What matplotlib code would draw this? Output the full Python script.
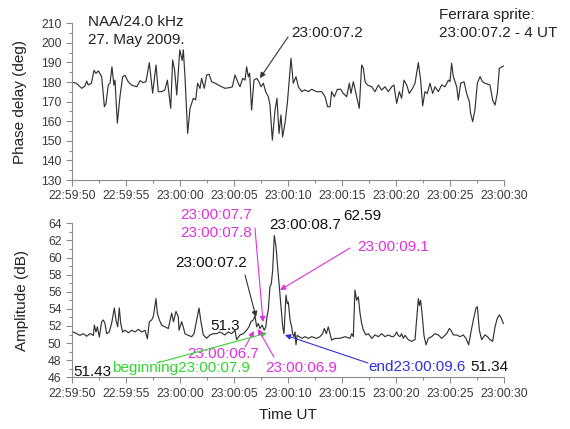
import matplotlib
matplotlib.use("Agg")
import matplotlib.pyplot as plt
from matplotlib.ticker import MultipleLocator

plt.rcParams['font.family'] = ['Liberation Sans', 'DejaVu Sans']

# ---- data: seconds after 22:59:50 UT ----
tick_seconds = [0, 5, 10, 15, 20, 25, 30, 35, 40]
tick_labels = ["22:59:50", "22:59:55", "23:00:00", "23:00:05", "23:00:10",
               "23:00:15", "23:00:20", "23:00:25", "23:00:30"]

phase_t = [0.0, 0.4, 0.9, 1.2, 1.36, 1.5, 1.8, 2.04, 2.22, 2.44, 2.75, 3.0, 3.15, 3.36, 3.52,
           3.7, 3.88, 3.98, 4.2, 4.44, 4.69, 4.9, 5.2, 5.5, 6.0, 6.3, 6.6, 6.85, 7.16, 7.47,
           7.78, 7.99, 8.3, 8.6, 8.83, 9.14, 9.32, 9.5, 9.7, 9.98, 10.2, 10.31, 10.46, 10.71,
           10.93, 11.23, 11.45, 11.63, 11.85, 12.0, 12.25, 12.47, 12.69, 12.93, 13.24, 13.86,
           14.17, 14.63, 14.85, 15.09, 15.4, 15.56, 15.8, 16.02, 16.17, 16.33, 16.45, 16.63,
           16.85, 17.1, 17.31, 17.5, 17.72, 17.93, 18.18, 18.33, 18.55, 18.8, 18.98, 19.17,
           19.35, 19.5, 19.72, 19.94, 20.28, 20.49, 20.74, 20.96, 21.27, 21.57, 21.88, 22.19,
           22.65, 23.12, 23.43, 23.67, 23.89, 24.04, 24.29, 24.57, 24.88, 25.12, 25.43, 25.68,
           25.83, 26.05, 26.36, 26.6, 26.82, 26.98, 27.13, 27.35, 27.75, 28.06, 28.37, 28.67,
           28.98, 29.29, 29.6, 29.81, 30.06, 30.31, 30.52, 30.74, 30.99, 31.23, 31.54, 31.76,
           32.07, 32.28, 32.47, 32.68, 32.9, 33.15, 33.4, 33.61, 33.92, 34.23, 34.54, 34.85,
           35.0, 35.15, 35.31, 35.62, 35.77, 35.99, 36.3, 36.54, 36.79, 36.91, 37.1, 37.31,
           37.53, 37.78, 38.0, 38.24, 38.7, 38.95, 39.17, 39.38, 39.57, 39.94]
phase_deg = [180.0, 179.4, 176.8, 178.0, 180.5, 178.5, 179.4, 186.0, 184.4, 185.7, 182.7, 167.4,
             169.1, 178.5, 179.4, 187.8, 178.5, 181.0, 159.0, 172.5, 182.7, 183.5, 180.2, 178.5,
             177.6, 180.7, 179.7, 180.2, 189.9, 174.3, 188.7, 175.1, 175.1, 176.0, 181.0, 166.6,
             191.3, 186.2, 173.4, 196.4, 191.0, 196.4, 183.0, 153.8, 166.6, 171.7, 170.9, 179.4,
             176.8, 181.9, 176.8, 183.6, 184.0, 180.2, 179.4, 177.6, 176.8, 177.2, 177.6, 183.6,
             179.4, 177.6, 181.9, 181.0, 187.8, 182.7, 184.5, 165.7, 181.0, 181.9, 180.2, 177.6,
             179.4, 175.1, 172.5, 168.3, 150.4, 165.7, 171.7, 153.8, 163.2, 152.0, 158.9, 169.2,
             192.1, 179.4, 182.7, 177.6, 175.1, 176.0, 175.1, 176.3, 175.1, 175.1, 172.5, 167.4,
             167.4, 175.1, 172.5, 176.3, 176.3, 174.2, 172.5, 179.4, 174.2, 180.2, 172.5, 166.6,
             188.7, 187.0, 180.2, 178.5, 177.6, 175.1, 178.5, 175.9, 177.6, 175.1, 177.6, 178.5,
             169.1, 175.1, 171.7, 181.0, 178.5, 174.2, 176.8, 179.4, 189.9, 181.0, 167.8, 175.1,
             174.2, 179.4, 174.2, 177.6, 175.1, 178.5, 177.6, 181.0, 180.2, 189.6, 182.8, 177.6,
             170.8, 179.4, 180.2, 174.2, 170.0, 164.0, 159.8, 165.7, 179.4, 182.8, 180.2, 179.4,
             178.5, 170.8, 168.3, 174.2, 187.0, 188.2]

amp_t = [0.0, 0.12, 0.43, 0.74, 1.05, 1.36, 1.67, 1.98, 2.07, 2.22, 2.35, 2.53, 2.75, 2.9, 3.05,
         3.21, 3.45, 3.67, 3.92, 4.07, 4.23, 4.38, 4.51, 4.69, 4.91, 5.22, 5.52, 5.83, 6.14,
         6.45, 6.76, 6.98, 7.16, 7.38, 7.53, 7.78, 7.9, 8.09, 8.3, 8.61, 8.92, 9.23, 9.4, 9.63,
         9.84, 9.91, 10.15, 10.3, 10.46, 10.77, 11.08, 11.3, 11.54, 11.76, 11.94, 12.16, 12.47,
         12.78, 13.09, 13.4, 13.7, 14.16, 14.47, 14.78, 15.09, 15.25, 15.55, 15.86, 16.17,
         16.39, 16.57, 16.79, 16.94, 17.1, 17.25, 17.4, 17.6, 17.8, 17.95, 18.05, 18.18, 18.33,
         18.45, 18.58, 18.73, 18.89, 19.04, 19.2, 19.35, 19.51, 19.63, 19.81, 19.94, 20.03,
         20.19, 20.34, 20.43, 20.56, 20.65, 20.74, 20.85, 21.05, 21.3, 21.57, 21.88, 22.19,
         22.65, 22.96, 23.2, 23.36, 23.55, 23.73, 23.89, 24.04, 24.35, 24.81, 25.28, 25.74,
         25.9, 26.05, 26.2, 26.36, 26.51, 26.67, 26.82, 26.98, 27.22, 27.44, 27.75, 28.06,
         28.37, 28.67, 28.98, 29.29, 29.6, 29.75, 29.91, 30.06, 30.2, 30.37, 30.52, 30.68,
         30.83, 31.14, 31.45, 31.76, 31.91, 32.07, 32.17, 32.28, 32.44, 32.59, 32.78, 32.99,
         33.3, 33.61, 33.92, 34.23, 34.69, 34.94, 35.09, 35.31, 35.62, 35.93, 36.23, 36.48,
         36.73, 36.91, 37.16, 37.41, 37.53, 37.72, 37.93, 38.24, 38.47, 38.7, 38.95, 39.17,
         39.38, 39.57, 39.75, 39.94]
amp_db = [51.2, 51.3, 51.1, 50.9, 51.1, 50.8, 51.1, 50.9, 52.1, 51.3, 51.9, 50.7, 52.5, 52.7, 52.3,
          51.1, 51.3, 52.3, 54.1, 52.7, 51.9, 54.1, 52.3, 51.3, 51.5, 51.2, 51.5, 51.3, 51.6,
          51.3, 51.5, 50.5, 52.5, 52.7, 53.1, 55.2, 53.5, 52.7, 52.1, 51.9, 51.7, 53.5, 52.5,
          53.7, 53.1, 51.5, 52.5, 51.9, 51.1, 50.9, 50.75, 51.1, 52.7, 54.1, 52.5, 50.95, 50.56,
          50.95, 51.1, 51.1, 51.3, 50.95, 51.3, 51.1, 51.5, 50.4, 50.95, 51.1, 51.5, 51.9, 52.5,
          52.7, 53.2, 51.9, 52.3, 51.7, 52.1, 51.5, 51.9, 53.1, 53.9, 56.6, 56.9, 58.5, 62.59,
          61.3, 58.9, 56.6, 54.3, 51.9, 51.1, 55.6, 54.6, 54.8, 52.7, 51.9, 51.1, 50.75, 51.3,
          49.8, 50.9, 50.75, 50.55, 50.75, 50.55, 50.75, 50.55, 50.75, 51.1, 51.7, 51.1, 51.9,
          51.1, 50.35, 50.55, 50.55, 50.75, 50.55, 51.1, 50.75, 56.2, 55.0, 55.4, 53.5, 52.3,
          51.5, 50.95, 51.1, 50.55, 50.95, 50.75, 51.1, 50.75, 50.95, 50.75, 50.75, 50.95, 51.3,
          50.9, 50.75, 51.1, 50.55, 50.9, 50.4, 50.2, 50.4, 52.7, 55.2, 54.4, 55.0, 53.1, 50.9,
          49.8, 50.55, 50.75, 51.1, 50.95, 50.55, 51.1, 51.7, 51.5, 50.95, 50.95, 50.75, 50.95,
          50.55, 49.8, 51.1, 52.7, 54.1, 54.25, 51.5, 50.4, 50.95, 50.75, 50.4, 50.2, 51.9,
          52.9, 53.3, 52.9, 52.3]

LINE = '#333333'
SPINE = '#8c8c8c'
TICKTXT = '#3a3a3a'
MAG = '#e030e0'
GRN = '#30d830'
BLU = '#3030d8'

fig = plt.figure(figsize=(5.70, 4.29), dpi=100)
ax1 = fig.add_axes([0.1263, 0.5804, 0.7579, 0.3653])
ax2 = fig.add_axes([0.1263, 0.1205, 0.7579, 0.3590])


def style(ax):
    for s in ('top', 'right'):
        ax.spines[s].set_visible(False)
    for s in ('left', 'bottom'):
        ax.spines[s].set_color(SPINE)
        ax.spines[s].set_linewidth(0.8)
    ax.set_xlim(0, 40)
    ax.set_xticks(tick_seconds)
    ax.set_xticklabels(tick_labels)
    ax.xaxis.set_minor_locator(MultipleLocator(2.5))
    ax.tick_params(which='both', direction='out', color=SPINE, labelcolor=TICKTXT,
                   labelsize=8.7, width=0.8)
    ax.tick_params(which='major', length=4)
    ax.tick_params(which='minor', length=2.5)


style(ax1)
style(ax2)

ax1.plot(phase_t, phase_deg, color=LINE, lw=0.85)
ax1.set_ylim(130, 210)
ax1.yaxis.set_major_locator(MultipleLocator(10))
ax1.yaxis.set_minor_locator(MultipleLocator(5))
ax1.set_ylabel('Phase delay (deg)', fontsize=11, color='#222222', labelpad=10)

ax2.plot(amp_t, amp_db, color=LINE, lw=0.85)
ax2.set_ylim(46, 64)
ax2.yaxis.set_major_locator(MultipleLocator(2))
ax2.yaxis.set_minor_locator(MultipleLocator(1))
ax2.set_ylabel('Amplitude (dB)', fontsize=11, color='#222222', labelpad=14)
ax2.set_xlabel('Time UT', fontsize=11, color='#222222', labelpad=6)

fs = 11
# top panel texts
ax1.text(1.5, 210.7, 'NAA/24.0 kHz', fontsize=fs, color='#222222', va='center', clip_on=False)
ax1.text(1.5, 201.5, '27. May 2009.', fontsize=fs, color='#222222', va='center', clip_on=False)
ax1.text(34.0, 214.2, 'Ferrara sprite:', fontsize=fs, color='#222222', va='center', clip_on=False)
ax1.text(34.0, 205.0, '23:00:07.2 - 4 UT', fontsize=fs, color='#222222', va='center', clip_on=False)
ax1.text(20.3, 205.0, '23:00:07.2', fontsize=fs, color='#222222', va='center', clip_on=False)
arrow = dict(arrowstyle='-|>', lw=0.8, mutation_scale=8, shrinkA=0, shrinkB=0)
ax1.annotate('', xy=(17.4, 182.0), xytext=(20.0, 203.0),
             arrowprops=dict(arrow, color='#333333'), annotation_clip=False)

# bottom panel texts
def t2(x, y, s, c):
    ax2.text(x, y, s, fontsize=fs, color=c, va='center', ha='left', clip_on=False)

t2(10.0, 64.97, '23:00:07.7', MAG)
t2(10.0, 62.87, '23:00:07.8', MAG)
t2(9.54, 59.36, '23:00:07.2', '#111111')
t2(12.78, 52.0, '51.3', '#111111')
t2(10.65, 48.72, '23:00:06.7', MAG)
t2(3.7, 47.08, 'beginning23:00:07.9', GRN)
t2(0.1, 46.6, '51.43', '#111111')
t2(17.87, 47.08, '23:00:06.9', MAG)
t2(18.24, 63.8, '23:00:08.7', '#111111')
t2(25.1, 64.85, '62.59', '#111111')
t2(26.4, 61.23, '23:00:09.1', MAG)
t2(27.4, 47.2, 'end23:00:09.6', BLU)
t2(36.85, 47.2, '51.34', '#111111')

def arr(tail, head, c):
    ax2.annotate('', xy=head, xytext=tail, arrowprops=dict(arrow, color=c),
                 annotation_clip=False)

arr((16.94, 63.45), (17.69, 52.45), MAG)
arr((16.02, 57.96), (17.04, 53.05), '#333333')
arr((16.02, 49.54), (16.85, 51.41), MAG)
arr((7.87, 47.67), (18.06, 51.18), GRN)
arr((18.7, 48.37), (17.22, 51.65), MAG)
arr((25.74, 61.11), (19.26, 56.2), MAG)
arr((27.4, 47.67), (19.72, 50.94), BLU)

fig.savefig('out.png', dpi=100)
